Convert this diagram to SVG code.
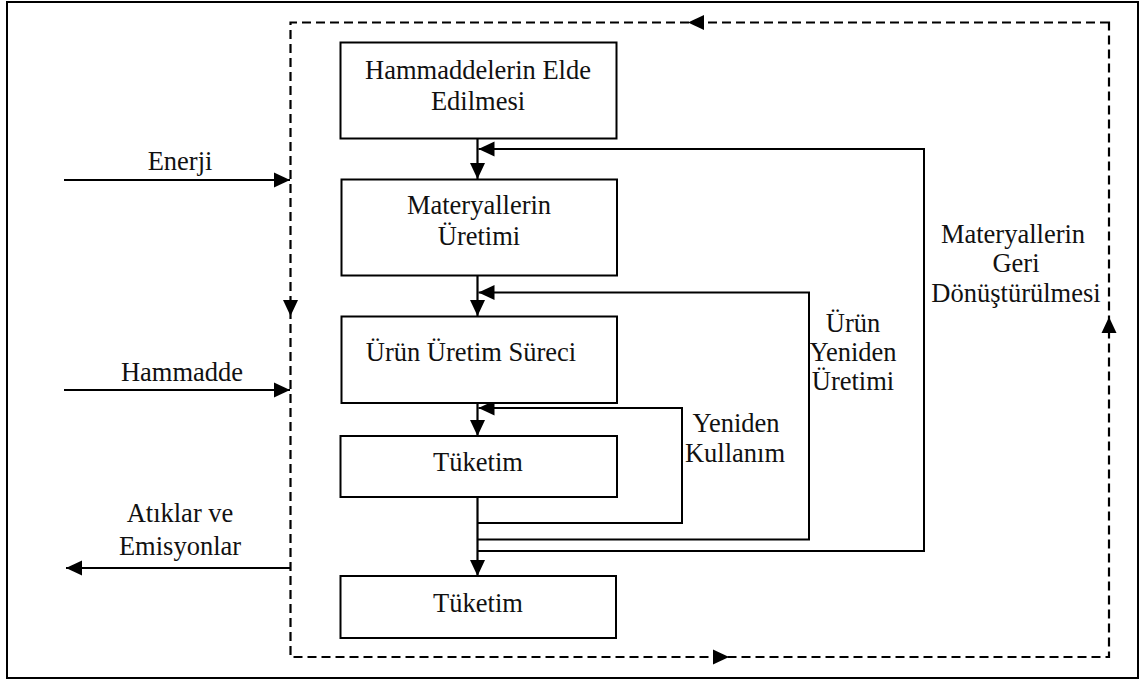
<svg xmlns="http://www.w3.org/2000/svg" xmlns:xlink="http://www.w3.org/1999/xlink" width="1143" height="682" viewBox="0 0 1143 682">
  <style>
    .frame { fill: #fff; stroke: #000; stroke-width: 2; }
    .box { fill: #fff; stroke: #000; stroke-width: 2; }
    .flow { fill: none; stroke: #000; stroke-width: 2.2; }
    .thin { fill: none; stroke: #000; stroke-width: 2; }
    .dash { fill: none; stroke: #000; stroke-width: 2.2; stroke-dasharray: 9 5; }
    .lbl { font-family: "Liberation Serif", "Times New Roman", serif; font-size: 26.5px; fill: #111; text-anchor: middle; }
  </style>
  <defs>
    <path id="head" d="M0,0 L-16,-7.5 L-16,7.5 Z" fill="#000"/>
    <marker id="arrow" markerUnits="userSpaceOnUse" markerWidth="18" markerHeight="18" viewBox="-17 -9 18 18" refX="0" refY="0" orient="auto">
      <path d="M0,0 L-16,-7.5 L-16,7.5 Z" fill="#000"/>
    </marker>
  </defs>

  <rect class="frame" x="7" y="2" width="1131" height="676"/>

  <g id="connectors">
    <!-- dashed system boundary -->
    <path class="dash" d="M1109,22.5 H290.5 V657 H1109 Z"/>
    <use xlink:href="#head" transform="translate(688,22.5) rotate(180)"/>
    <use xlink:href="#head" transform="translate(290.5,316) rotate(90)"/>
    <use xlink:href="#head" transform="translate(729,657)"/>
    <use xlink:href="#head" transform="translate(1109,317) rotate(-90)"/>

    <!-- inputs and outputs -->
    <line class="flow" x1="64" y1="180" x2="290" y2="180" marker-end="url(#arrow)"/>
    <line class="flow" x1="64" y1="390" x2="290" y2="390" marker-end="url(#arrow)"/>
    <line class="flow" x1="290" y1="568" x2="66" y2="568" marker-end="url(#arrow)"/>

    <!-- main life-cycle chain -->
    <line class="flow" x1="477.5" y1="139" x2="477.5" y2="179" marker-end="url(#arrow)"/>
    <line class="flow" x1="477.5" y1="275.5" x2="477.5" y2="316" marker-end="url(#arrow)"/>
    <line class="flow" x1="477.5" y1="403" x2="477.5" y2="436" marker-end="url(#arrow)"/>
    <line class="flow" x1="477.5" y1="497" x2="477.5" y2="576" marker-end="url(#arrow)"/>

    <!-- feedback loops -->
    <path class="thin" d="M477.5,523 H682 V408 H478.5" marker-end="url(#arrow)"/>
    <path class="thin" d="M477.5,539.5 H809 V292.5 H478.5" marker-end="url(#arrow)"/>
    <path class="thin" d="M477.5,551 H924 V149 H478.5" marker-end="url(#arrow)"/>
  </g>

  <g id="node-hammadde-elde">
    <rect class="box" x="340.5" y="42.5" width="276" height="96"/>
    <text class="lbl" x="478" y="78.5">Hammaddelerin Elde</text>
    <text class="lbl" x="478" y="109.5">Edilmesi</text>
  </g>
  <g id="node-materyal-uretim">
    <rect class="box" x="341.5" y="179.5" width="275.5" height="96"/>
    <text class="lbl" x="479" y="213.5">Materyallerin</text>
    <text class="lbl" x="479" y="245">Üretimi</text>
  </g>
  <g id="node-urun-uretim">
    <rect class="box" x="341.5" y="316.5" width="275.5" height="86.5"/>
    <text class="lbl" x="471" y="361">Ürün Üretim Süreci</text>
  </g>
  <g id="node-tuketim-1">
    <rect class="box" x="340.5" y="436" width="276.5" height="61"/>
    <text class="lbl" x="478" y="471">Tüketim</text>
  </g>
  <g id="node-tuketim-2">
    <rect class="box" x="340.5" y="576" width="275.5" height="62"/>
    <text class="lbl" x="478" y="612">Tüketim</text>
  </g>

  <g id="labels">
    <text class="lbl" x="180" y="169.5">Enerji</text>
    <text class="lbl" x="182" y="381">Hammadde</text>
    <text class="lbl" x="180" y="522">Atıklar ve</text>
    <text class="lbl" x="180" y="554.5">Emisyonlar</text>
    <text class="lbl" x="736" y="432">Yeniden</text>
    <text class="lbl" x="735" y="462">Kullanım</text>
    <text class="lbl" x="853" y="332">Ürün</text>
    <text class="lbl" x="853" y="361">Yeniden</text>
    <text class="lbl" x="853" y="390">Üretimi</text>
    <text class="lbl" x="1013" y="243">Materyallerin</text>
    <text class="lbl" x="1016" y="272">Geri</text>
    <text class="lbl" x="1016" y="302">Dönüştürülmesi</text>
  </g>
</svg>
